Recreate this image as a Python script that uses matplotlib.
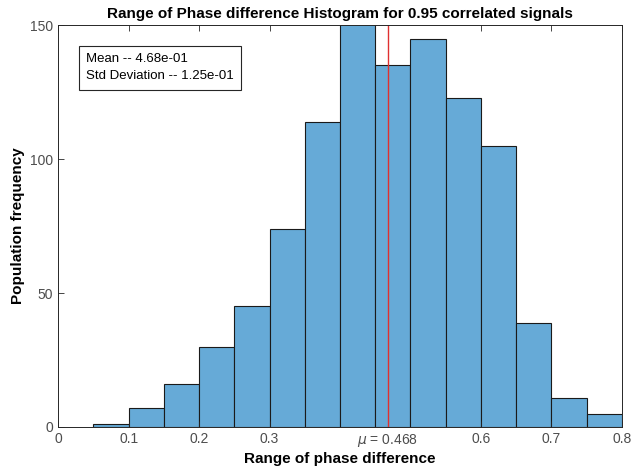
import numpy as np
import matplotlib.pyplot as plt

plt.rcParams['font.family'] = ['Liberation Sans', 'DejaVu Sans']

# histogram bins (width 0.05) and counts
bin_edges = [0.05, 0.10, 0.15, 0.20, 0.25, 0.30, 0.35, 0.40,
             0.45, 0.50, 0.55, 0.60, 0.65, 0.70, 0.75, 0.80]
counts = [1, 7, 16, 30, 45, 74, 114, 152, 135, 145, 123, 105, 39, 11, 5]

mean_val = 0.468
std_val = 0.125

xtick_pos = [0, 0.1, 0.2, 0.3, mean_val, 0.6, 0.7, 0.8]
xtick_lab = ['0', '0.1', '0.2', '0.3', r'$\mu$ = 0.468', '0.6', '0.7', '0.8']
ytick_pos = [0, 50, 100, 150]

fig = plt.figure(figsize=(6.32, 4.76), dpi=100)
ax = fig.add_axes([0.092, 0.103, 0.892, 0.844])

edges = np.array(bin_edges)
ax.bar(edges[:-1], counts, width=np.diff(edges), align='edge',
       color='#66aad7', edgecolor='#1a1a1a', linewidth=0.8)
ax.axvline(mean_val, color='#e03030', linewidth=1.0)

ax.set_xlim(0, 0.8)
ax.set_ylim(0, 150)
ax.set_xticks(xtick_pos)
ax.set_xticklabels(xtick_lab)
ax.set_yticks(ytick_pos)
ax.tick_params(direction='in', top=True, right=False, length=4,
               labelsize=10, colors='#262626', labelcolor='#4d4d4d', width=0.6)
for s in ax.spines.values():
    s.set_color('#262626')
    s.set_linewidth(0.7)

ax.set_title('Range of Phase difference Histogram for 0.95 correlated signals',
             fontsize=11, fontweight='bold', pad=5)
ax.set_xlabel('Range of phase difference', fontsize=11, fontweight='bold', labelpad=2)
ax.set_ylabel('Population frequency', fontsize=11, fontweight='bold', labelpad=4)

ax.text(0.05, 0.93, 'Mean -- %.2e\nStd Deviation -- %.2e' % (mean_val, std_val),
        transform=ax.transAxes, ha='left', va='top', fontsize=9.5, linespacing=1.55,
        bbox=dict(boxstyle='square,pad=0.55', facecolor='white', edgecolor='#262626',
                  linewidth=0.8))

fig.savefig('out.png', dpi=100)
